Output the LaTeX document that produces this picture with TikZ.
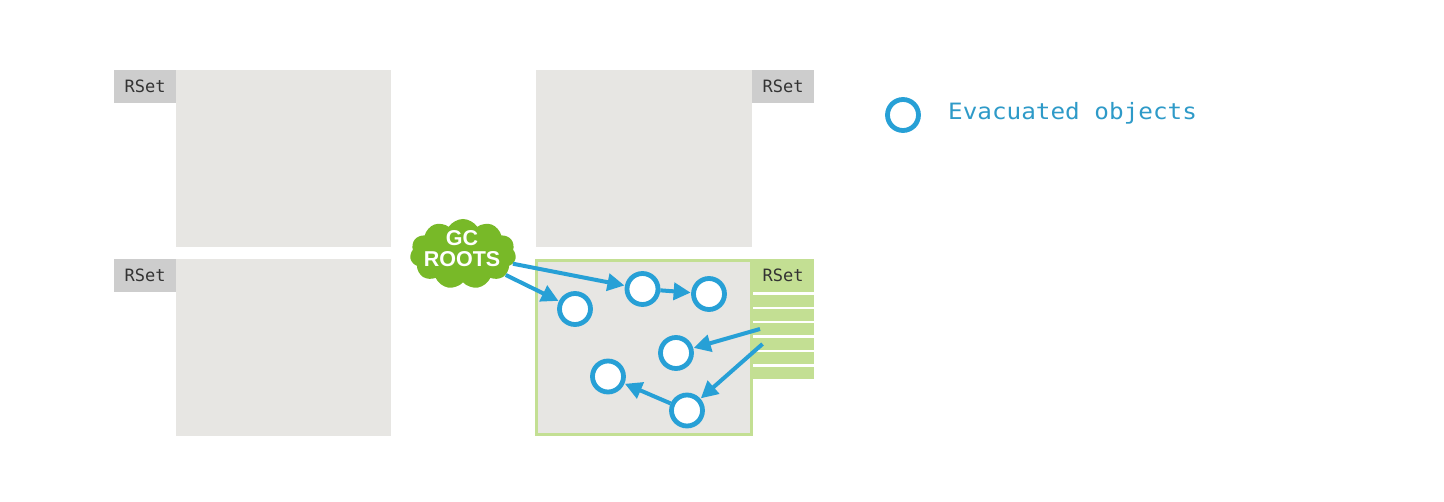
\documentclass[tikz,border=0pt]{standalone}
\usepackage{fontspec}
\usepackage{graphicx}
\usetikzlibrary{arrows.meta,shapes.symbols}
\newfontfamily\monofam{DejaVu Sans Mono}
\newfontfamily\sansfam{Liberation Sans}
\definecolor{regiongray}{HTML}{E7E6E3}
\definecolor{rsetgray}{HTML}{CDCDCD}
\definecolor{gcgreen}{HTML}{78B928}
\definecolor{lightgreen}{HTML}{C3DF93}
\definecolor{objblue}{HTML}{27A0D6}
\definecolor{legendblue}{HTML}{2E9AC8}
\tikzset{
  region/.style={fill=regiongray, draw=none, inner sep=0, outer sep=0},
  rsetbox/.style={fill=rsetgray, draw=none, inner sep=0, minimum width=62, minimum height=33, font=\monofam\fontsize{17}{18}\selectfont, text=black!80},
  rsetgreen/.style={rsetbox, fill=lightgreen},
  stripe/.style={fill=lightgreen, draw=none, inner sep=0, minimum width=62, minimum height=12, anchor=north west},
  obj/.style={circle, draw=objblue, line width=4.8, fill=white, minimum size=31, inner sep=0},
  arr/.style={draw=objblue, line width=4, -{Triangle[length=17,width=17]}, shorten >=0.5},
}
\begin{document}
\begin{tikzpicture}[x=1pt,y=-1pt]
\useasboundingbox (0,0) rectangle (1444,502);
% top-left region
\fill[regiongray] (176,70) rectangle (391,247);
\node[rsetbox, anchor=north west] (rs1) at (114,70) {RSet};
% bottom-left region
\fill[regiongray] (176,259) rectangle (391,436);
\node[rsetbox, anchor=north west] (rs2) at (114,259) {RSet};
% top-right region
\fill[regiongray] (536,70) rectangle (752,247);
\node[rsetbox, anchor=north west] (rs3) at (752,70) {RSet};
% bottom-right region (collection set)
\draw[fill=regiongray, draw=lightgreen, line width=3] (536.5,260.5) rectangle (751.2,434.5);
\node[rsetgreen, anchor=north west] (rs4) at (752,259) {RSet};
\foreach \i in {0,...,5} {
  \node[stripe] (s\i) at (752,{294.5+14.4*\i}) {};
}
% objects
\node[obj] (c1) at (575,309) {};
\node[obj] (c2) at (642.5,289) {};
\node[obj] (c3) at (709,294) {};
\node[obj] (c4) at (676,353) {};
\node[obj] (c5) at (608,376.5) {};
\node[obj] (c6) at (687,410.5) {};
% GC roots cloud
\node[cloud, cloud puffs=11, cloud puff arc=115, aspect=1.45, fill=gcgreen, draw=none,
      minimum width=106, minimum height=70, inner sep=0] (gc) at (463,254) {};
\node[font=\sansfam\bfseries\fontsize{21.5}{20.5}\selectfont, text=white, align=center, inner sep=0] (gct) at (462,248.5) {GC\\ROOTS};
% connectors
\coordinate (r1) at (760,329);
\coordinate (r2) at (762.5,344);
\draw[arr] (gc) -- (c1);
\draw[arr] (gc) -- (c2);
\draw[arr] (c2) -- (c3);
\draw[arr] (r1) -- (c4);
\draw[arr] (r2) -- (c6);
\draw[arr] (c6) -- (c5);
% legend
\node[obj] (lg) at (903,115) {};
\node[anchor=west, inner sep=0, text=legendblue, font=\monofam\fontsize{22.5}{24}\selectfont] (lgt) at (948,113) {\scalebox{1.08}[1]{Evacuated objects}};
\end{tikzpicture}
\end{document}
